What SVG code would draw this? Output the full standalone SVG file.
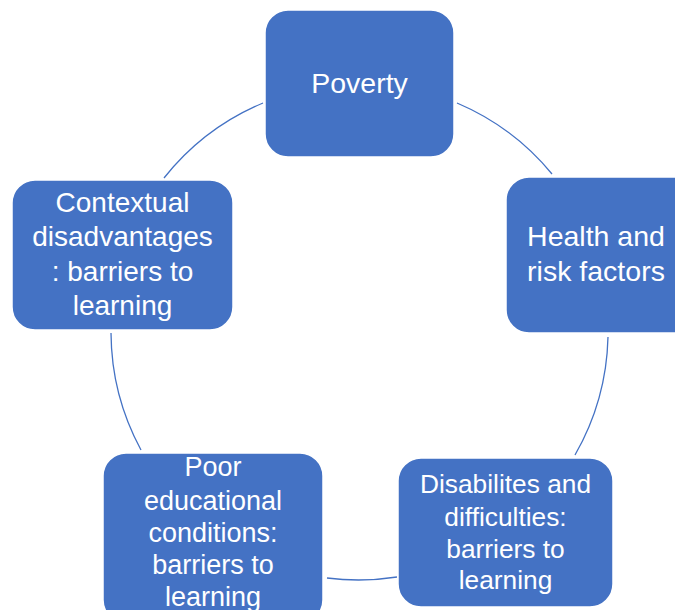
<svg xmlns="http://www.w3.org/2000/svg" width="675" height="610" viewBox="0 0 675 610">
<style>
.box{fill:#4472C4;stroke:#ffffff;stroke-width:1.5}
.lbl{fill:#ffffff;font-family:"Liberation Sans",Arial,sans-serif;text-anchor:middle}
.arc{fill:none;stroke:#4472C4;stroke-width:1.3}
</style>
<rect width="675" height="610" fill="#ffffff"/>
<g id="connectors">
<path class="arc" d="M164,178 A249,249 0 0 1 263,103"/>
<path class="arc" d="M457,103 A249,249 0 0 1 552,174"/>
<path class="arc" d="M608,337 A249,249 0 0 1 575,455"/>
<path class="arc" d="M397,577 A249,249 0 0 1 327,578"/>
<path class="arc" d="M141,450 A249,249 0 0 1 111,333"/>
</g>
<g id="poverty">
<rect class="box" x="265" y="10" width="189" height="147" rx="23"/>
<text class="lbl" x="359.5" y="93" font-size="28.5">Poverty</text>
</g>
<g id="health">
<rect class="box" x="506" y="177" width="190" height="156" rx="23"/>
<text class="lbl" font-size="28.5"><tspan x="596" y="246">Health and</tspan><tspan x="596" y="281">risk factors</tspan></text>
</g>
<g id="disabilities">
<rect class="box" x="398" y="458" width="215" height="149" rx="23"/>
<text class="lbl" font-size="26.3"><tspan x="505.5" y="493">Disabilites and</tspan><tspan x="505.5" y="526">difficulties:</tspan><tspan x="505.5" y="558">barriers to</tspan><tspan x="505.5" y="589">learning</tspan></text>
</g>
<g id="poor">
<rect class="box" x="103" y="453" width="220" height="170" rx="23"/>
<text class="lbl" font-size="27"><tspan x="213" y="476">Poor</tspan><tspan x="213" y="510">educational</tspan><tspan x="213" y="542">conditions:</tspan><tspan x="213" y="574">barriers to</tspan><tspan x="213" y="606">learning</tspan></text>
</g>
<g id="contextual">
<rect class="box" x="12" y="180" width="221" height="150" rx="23"/>
<text class="lbl" font-size="28"><tspan x="122.5" y="212">Contextual</tspan><tspan x="122.5" y="246">disadvantages</tspan><tspan x="122.5" y="281">: barriers to</tspan><tspan x="122.5" y="315">learning</tspan></text>
</g>
</svg>
